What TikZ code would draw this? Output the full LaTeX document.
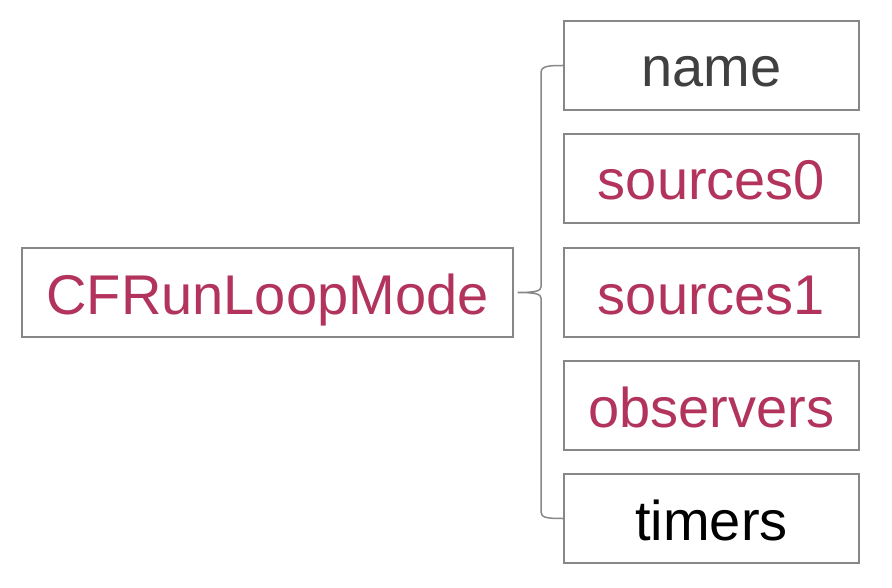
\documentclass[tikz,border=0pt]{standalone}
\usepackage{fontspec}
\setmainfont{Liberation Sans}
\definecolor{rose}{RGB}{178,52,92}
\definecolor{frame}{RGB}{135,135,135}
\definecolor{darktxt}{RGB}{64,64,64}
\begin{document}
\begin{tikzpicture}[x=1pt,y=-1pt,
  box/.style={draw=frame,line width=1.3pt,minimum height=89pt,inner sep=0pt,
    text height=43pt,text depth=0pt,
    font=\fontsize{56}{60}\selectfont},
  field/.style={box,minimum width=295pt},
  brace/.style={draw=frame,line width=1.5pt}]
\useasboundingbox (0,0) rectangle (892,588);
\node[box,minimum width=491pt,text=rose] (mode) at (267.5,292.5) {CFRunLoopMode};
\node[field,text=darktxt] (name) at (711.5,65.5) {name};
\node[field,text=rose] (s0) at (711.5,178.5) {sources0};
\node[field,text=rose] (s1) at (711.5,292.5) {sources1};
\node[field,text=rose] (obs) at (711.5,405.5) {observers};
\node[field,text=black] (tim) at (711.5,518.5) {timers};
\coordinate (tip) at ([xshift=4pt]mode.east);
\draw[brace] (name.west) .. controls (548,65.5) and (541,66) .. (541,73)
  -- (541,287) .. controls (541,291) and (535,292.5) .. (tip)
  .. controls (535,292.5) and (541,294) .. (541,298)
  -- (541,512) .. controls (541,518) and (548,518.5) .. (tim.west);
\end{tikzpicture}
\end{document}
